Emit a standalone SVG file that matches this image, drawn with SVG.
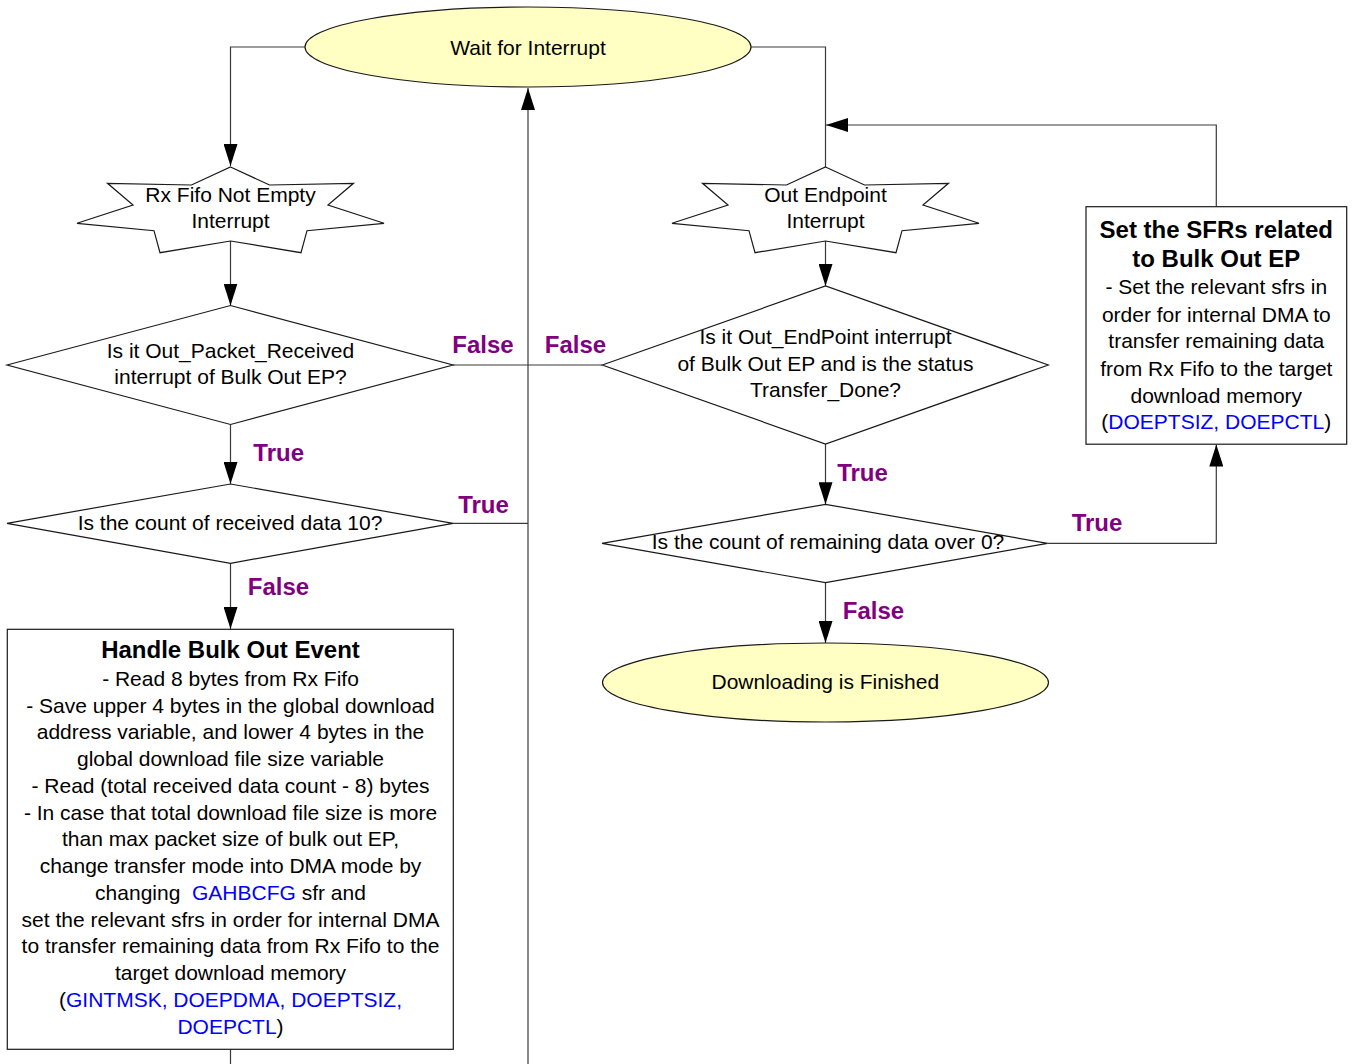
<svg xmlns="http://www.w3.org/2000/svg" xmlns:xlink="http://www.w3.org/1999/xlink" width="1354" height="1064" viewBox="0 0 1354 1064">
  <style>
    .shape { fill: #FFFFFF; stroke: #1A1A1A; stroke-width: 1.2; }
    .term { fill: #FFFFC4; stroke: #1A1A1A; stroke-width: 1.2; }
    .conn { fill: none; stroke: #3A3A3A; stroke-width: 1.2; }
    .t { font-family: "Liberation Sans", Arial, sans-serif; font-size: 21px; fill: #000000; text-anchor: middle; }
    .title { font-family: "Liberation Sans", Arial, sans-serif; font-size: 24px; font-weight: bold; fill: #000000; text-anchor: middle; }
    .lbl { font-family: "Liberation Sans", Arial, sans-serif; font-size: 24px; font-weight: bold; fill: #800080; text-anchor: middle; }
    .reg { fill: #0000FF; }
  </style>
  <defs>
    <marker id="arrow" markerUnits="userSpaceOnUse" markerWidth="22" markerHeight="14" refX="22" refY="7" orient="auto">
      <path d="M0,0 L22,7 L0,14 z" fill="#000000"/>
    </marker>
    <!-- seven-pointed burst used for interrupt events, centred on x=0 -->
    <polygon id="burst" points="0,167 39,185 123,183.3 97.5,205 153.5,223.3 76.5,230.7 70.5,252.7 0,241 -70.5,252.7 -76.5,230.7 -153.5,223.3 -97.5,205 -123,183.3 -39,185"/>
  </defs>

  <rect x="0" y="0" width="1354" height="1064" fill="#FFFFFF"/>

  <!-- connectors -->
  <g id="connectors">
    <path class="conn" d="M305,47 H230.5 V166" marker-end="url(#arrow)"/>
    <path class="conn" d="M751,47 H825.5 V167"/>
    <path class="conn" d="M230.5,241 V305.5" marker-end="url(#arrow)"/>
    <path class="conn" d="M230.5,424.5 V484" marker-end="url(#arrow)"/>
    <path class="conn" d="M230.5,563.3 V629" marker-end="url(#arrow)"/>
    <path class="conn" d="M230.5,1049 V1064"/>
    <path class="conn" d="M453,365 H602.3"/>
    <path class="conn" d="M453,523.3 H528"/>
    <path class="conn" d="M528,1064 V88" marker-end="url(#arrow)"/>
    <path class="conn" d="M825.5,241 V286" marker-end="url(#arrow)"/>
    <path class="conn" d="M825.5,444 V504.3" marker-end="url(#arrow)"/>
    <path class="conn" d="M825.5,582.7 V643" marker-end="url(#arrow)"/>
    <path class="conn" d="M1047.5,543.3 H1216.3 V444.5" marker-end="url(#arrow)"/>
    <path class="conn" d="M1216.3,206.7 V125 H826" marker-end="url(#arrow)"/>
  </g>

  <!-- branch labels -->
  <g id="labels">
    <text class="lbl" x="483" y="353.3">False</text>
    <text class="lbl" x="575.5" y="353.3">False</text>
    <text class="lbl" x="278.7" y="461">True</text>
    <text class="lbl" x="483.5" y="513">True</text>
    <text class="lbl" x="278.5" y="595">False</text>
    <text class="lbl" x="862.5" y="481">True</text>
    <text class="lbl" x="1097" y="531">True</text>
    <text class="lbl" x="873.5" y="619.3">False</text>
  </g>

  <g id="wait-for-interrupt">
    <ellipse class="term" cx="528" cy="47" rx="223" ry="40"/>
    <text class="t" x="528" y="55">Wait for Interrupt</text>
  </g>

  <g id="rx-fifo-interrupt">
    <use xlink:href="#burst" href="#burst" class="shape" x="230.5" y="0"/>
    <text class="t" x="230.5" y="201.7">Rx Fifo Not Empty</text>
    <text class="t" x="230.5" y="228.3">Interrupt</text>
  </g>

  <g id="out-endpoint-interrupt">
    <use xlink:href="#burst" href="#burst" class="shape" x="825.5" y="0"/>
    <text class="t" x="825.5" y="201.7">Out Endpoint</text>
    <text class="t" x="825.5" y="228.3">Interrupt</text>
  </g>

  <g id="is-out-packet-received">
    <polygon class="shape" points="7,365 230.5,305.5 453,365 230.5,424.5"/>
    <text class="t" x="230.5" y="358.3">Is it Out_Packet_Received</text>
    <text class="t" x="230.5" y="384">interrupt of Bulk Out EP?</text>
  </g>

  <g id="is-count-10">
    <polygon class="shape" points="7,523.3 230.5,484 453,523.3 230.5,563.3"/>
    <text class="t" x="230" y="530">Is the count of received data 10?</text>
  </g>

  <g id="handle-bulk-out-event">
    <rect class="shape" x="7.3" y="629.3" width="446" height="420"/>
    <text class="title" x="230.5" y="658">Handle Bulk Out Event</text>
    <text class="t" x="230.5" y="685.5">- Read 8 bytes from Rx Fifo</text>
    <text class="t" x="230.5" y="712.5">- Save upper 4 bytes in the global download</text>
    <text class="t" x="230.5" y="739.3">address variable, and lower 4 bytes in the</text>
    <text class="t" x="230.5" y="766">global download file size variable</text>
    <text class="t" x="230.5" y="792.8">- Read (total received data count - 8) bytes</text>
    <text class="t" x="230.5" y="819.5">- In case that total download file size is more</text>
    <text class="t" x="230.5" y="846.3">than max packet size of bulk out EP,</text>
    <text class="t" x="230.5" y="873">change transfer mode into DMA mode by</text>
    <text class="t" x="230.5" y="899.8" style="white-space:pre">changing  <tspan class="reg">GAHBCFG</tspan> sfr and</text>
    <text class="t" x="230.5" y="926.5">set the relevant sfrs in order for internal DMA</text>
    <text class="t" x="230.5" y="953.3">to transfer remaining data from Rx Fifo to the</text>
    <text class="t" x="230.5" y="980">target download memory</text>
    <text class="t" x="230.5" y="1006.8">(<tspan class="reg">GINTMSK, DOEPDMA, DOEPTSIZ,</tspan></text>
    <text class="t" x="230.5" y="1033.5"><tspan class="reg">DOEPCTL</tspan>)</text>
  </g>

  <g id="is-out-endpoint-done">
    <polygon class="shape" points="602.3,365 825.5,286 1048.3,365 825.5,444"/>
    <text class="t" x="825.5" y="344">Is it Out_EndPoint interrupt</text>
    <text class="t" x="825.5" y="370.7">of Bulk Out EP and is the status</text>
    <text class="t" x="825.5" y="397.3">Transfer_Done?</text>
  </g>

  <g id="is-remaining-over-0">
    <polygon class="shape" points="602,543.3 825.5,504.3 1047.5,543.3 825.5,582.7"/>
    <text class="t" x="828" y="549.3">Is the count of remaining data over 0?</text>
  </g>

  <g id="downloading-finished">
    <ellipse class="term" cx="825.5" cy="682.5" rx="223" ry="39.5"/>
    <text class="t" x="825.3" y="689.3">Downloading is Finished</text>
  </g>

  <g id="set-sfrs-bulk-out">
    <rect class="shape" x="1086" y="206.7" width="260.7" height="237.5"/>
    <text class="title" x="1216.3" y="238.3">Set the SFRs related</text>
    <text class="title" x="1216.3" y="266.7">to Bulk Out EP</text>
    <text class="t" x="1216.3" y="294.3">- Set the relevant sfrs in</text>
    <text class="t" x="1216.3" y="321.7">order for internal DMA to</text>
    <text class="t" x="1216.3" y="348.3">transfer remaining data</text>
    <text class="t" x="1216.3" y="376">from Rx Fifo to the target</text>
    <text class="t" x="1216.3" y="402.7">download memory</text>
    <text class="t" x="1216.3" y="429.3">(<tspan class="reg">DOEPTSIZ, DOEPCTL</tspan>)</text>
  </g>
</svg>
